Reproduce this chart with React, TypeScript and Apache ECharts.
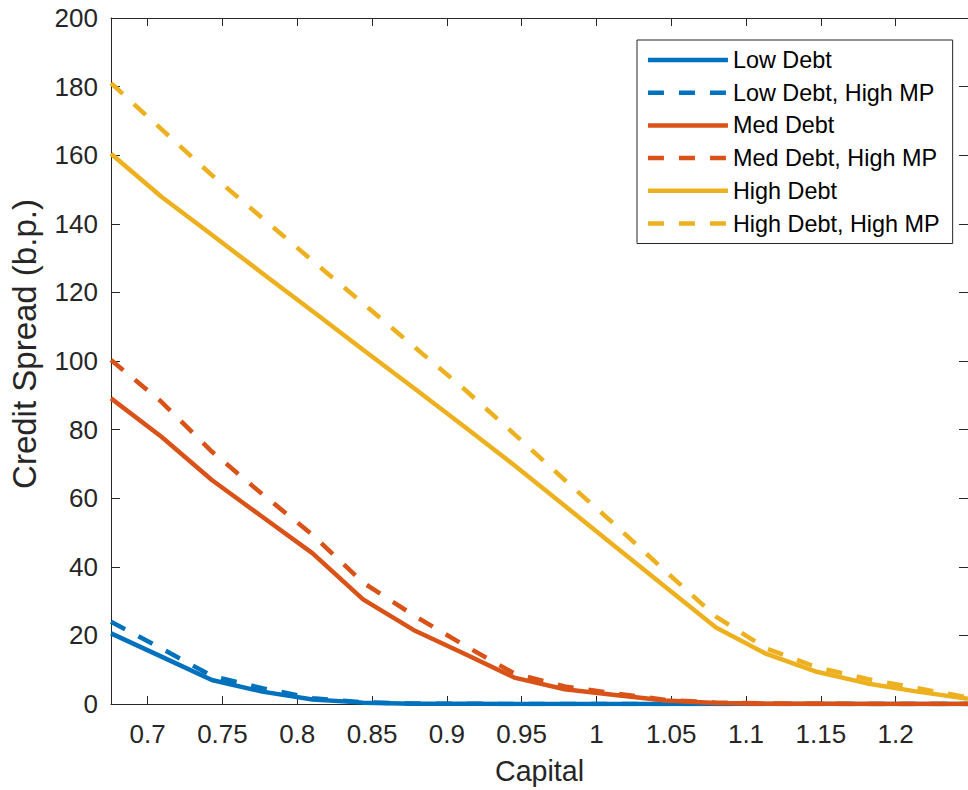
import React, { useEffect, useRef } from "react";
import * as echarts from "echarts";

const capital = [0.6755, 0.7092, 0.7429, 0.7766, 0.8103, 0.844, 0.8777, 0.9114, 0.9451, 0.9788, 1.0125, 1.0462, 1.0799, 1.1136, 1.1473, 1.181, 1.2147, 1.2484];

const lowDebt = [20.6, 13.8, 7.0, 3.6, 1.3, 0.4, 0.1, 0.05, 0.02, 0.01, 0, 0, 0, 0, 0, 0, 0, 0];
const lowDebtHighMP = [24.0, 16.2, 8.2, 4.6, 1.7, 0.5, 0.15, 0.05, 0.02, 0.01, 0, 0, 0, 0, 0, 0, 0, 0];
const medDebt = [89.1, 77.9, 65.3, 54.6, 43.9, 30.5, 21.6, 14.7, 7.7, 4.3, 2.6, 1.0, 0.3, 0.1, 0.05, 0.02, 0.01, 0];
const medDebtHighMP = [100.3, 88.1, 73.6, 61.2, 49.3, 35.4, 25.9, 17.2, 8.9, 5.1, 3.1, 1.2, 0.4, 0.15, 0.05, 0.02, 0.01, 0];
const highDebt = [160.4, 147.9, 136.8, 125.6, 114.5, 103.3, 92.2, 81.0, 69.6, 57.8, 45.9, 34.1, 22.3, 14.6, 9.4, 6.0, 3.6, 1.5];
const highDebtHighMP = [181.0, 167.6, 154.2, 141.7, 129.2, 116.8, 104.3, 91.9, 78.7, 65.3, 52.2, 38.7, 25.5, 16.2, 10.7, 7.3, 4.6, 1.9];

const xTicks = [0.7, 0.75, 0.8, 0.85, 0.9, 0.95, 1, 1.05, 1.1, 1.15, 1.2];
const seriesNames = ["Low Debt", "Low Debt, High MP", "Med Debt", "Med Debt, High MP", "High Debt", "High Debt, High MP"];

const FONT = "'Liberation Sans', Arial, Helvetica, sans-serif";
const AXIS = "#262626";
const BLUE = "#0072BD";
const RED = "#D95319";
const YELLOW = "#EDB120";
const LINE_W = 4.5;

export default function App() {
  const ref = useRef<HTMLDivElement>(null);

  useEffect(() => {
    if (!ref.current) return;
    const chart = echarts.init(ref.current, null, { renderer: "svg" });

    const pair = (ys: number[]) => capital.map((x, i) => [x, ys[i]]);
    const mk = (name: string, ys: number[], color: string, dashed: boolean) => ({
      name,
      type: "line",
      data: pair(ys),
      showSymbol: false,
      symbol: "none",
      color,
      lineStyle: {
        color,
        width: LINE_W,
        type: dashed ? [16, 15] : "solid",
        cap: "butt",
        join: "round",
      },
      emphasis: { disabled: true },
      z: 2,
    });

    const xMin = capital[0];
    const xMax = capital[capital.length - 1];

    chart.setOption({
      animation: false,
      backgroundColor: "#ffffff",
      textStyle: { fontFamily: FONT },
      grid: { left: 107.5, top: 18, width: 866, height: 686, containLabel: false },
      xAxis: [
        {
          type: "value",
          min: xMin,
          max: xMax,
          position: "bottom",
          name: "Capital",
          nameLocation: "middle",
          nameGap: 52,
          nameTextStyle: { fontSize: 28.6, color: AXIS, fontFamily: FONT },
          axisLine: { show: true, onZero: false, lineStyle: { color: AXIS, width: 1 } },
          axisTick: { show: true, inside: true, length: 8, customValues: xTicks, lineStyle: { color: AXIS, width: 1 } },
          axisLabel: {
            show: true,
            customValues: xTicks,
            margin: 17,
            fontSize: 26,
            color: AXIS,
            fontFamily: FONT,
            formatter: (v: number) => String(v),
          },
          splitLine: { show: false },
        },
        {
          type: "value",
          min: xMin,
          max: xMax,
          position: "top",
          axisLine: { show: true, onZero: false, lineStyle: { color: AXIS, width: 1 } },
          axisTick: { show: true, inside: true, length: 8, customValues: xTicks, lineStyle: { color: AXIS, width: 1 } },
          axisLabel: { show: false },
          splitLine: { show: false },
        },
      ],
      yAxis: [
        {
          type: "value",
          min: 0,
          max: 200,
          interval: 20,
          position: "left",
          name: "Credit Spread (b.p.)",
          nameLocation: "middle",
          nameGap: 70,
          nameTextStyle: { fontSize: 33, color: AXIS, fontFamily: FONT, padding: [0, 0, 0, 34] },
          axisLine: { show: true, onZero: false, lineStyle: { color: AXIS, width: 1 } },
          axisTick: { show: true, inside: true, length: 9, lineStyle: { color: AXIS, width: 1 } },
          axisLabel: { margin: 13, fontSize: 26, color: AXIS, fontFamily: FONT },
          splitLine: { show: false },
        },
        {
          type: "value",
          min: 0,
          max: 200,
          interval: 20,
          position: "right",
          axisLine: { show: true, onZero: false, lineStyle: { color: AXIS, width: 1 } },
          axisTick: { show: true, inside: true, length: 9, lineStyle: { color: AXIS, width: 1 } },
          axisLabel: { show: false },
          splitLine: { show: false },
        },
      ],
      legend: {
        show: true,
        orient: "vertical",
        left: 637,
        top: 40,
        data: seriesNames,
        itemWidth: 80,
        itemHeight: 24,
        itemGap: 8.7,
        padding: [8, 13, 8, 8.7],
        backgroundColor: "#ffffff",
        borderColor: AXIS,
        borderWidth: 1,
        borderRadius: 0,
        selectedMode: false,
        itemStyle: { opacity: 0, color: "transparent", borderWidth: 0 },
        lineStyle: { width: LINE_W, cap: "butt" },
        textStyle: { fontSize: 23.4, color: "#000000", fontFamily: FONT, lineHeight: 24 },
      },
      series: [
        mk(seriesNames[0], lowDebt, BLUE, false),
        mk(seriesNames[1], lowDebtHighMP, BLUE, true),
        mk(seriesNames[2], medDebt, RED, false),
        mk(seriesNames[3], medDebtHighMP, RED, true),
        mk(seriesNames[4], highDebt, YELLOW, false),
        mk(seriesNames[5], highDebtHighMP, YELLOW, true),
      ],
    });

    return () => chart.dispose();
  }, []);

  return (
    <div
      ref={ref}
      style={{ position: "absolute", left: 0, top: 0, width: 968, height: 790, background: "#ffffff" }}
    />
  );
}
